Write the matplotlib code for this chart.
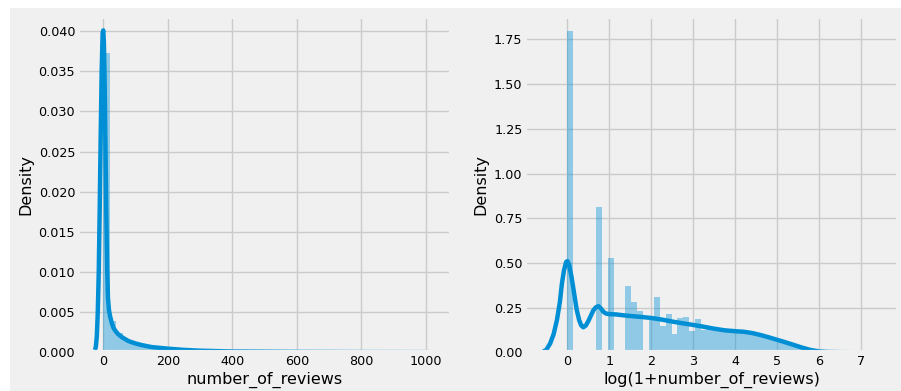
import numpy as np
import matplotlib
matplotlib.use('Agg')
import matplotlib.pyplot as plt
from matplotlib.patches import Rectangle

plt.style.use('fivethirtyeight')

BLUE = '#008fd5'

# raw counts histogram (50 bins of width 20 up to 1000 reviews)
raw_max = 1000
raw_hist = [0.0373, 0.0039, 0.0024, 0.0017, 0.0012, 0.0009, 0.0007, 0.00055,
            0.00045, 0.00035, 0.0003, 0.00024, 0.0002, 0.00016, 0.00013, 0.0001,
            0.00008, 0.00007, 0.00006, 0.00005, 0.00004, 0.00004, 0.00003, 0.00003,
            0.00003, 0.00002, 0.00002, 0.00002, 0.00002, 0.00002, 0.00001, 0.00001,
            0.00001, 0.00001, 0.00001, 0.00001, 0.00001, 0.00001, 0.00001, 0.00001,
            0.00001, 0.00001, 0.00001, 0.00001, 0.00001, 0.00001, 0.00001, 0.00001,
            0.00001, 0.00001]
raw_kde_x = [-25.7, -23, -20, -17, -14, -11, -8, -5, -2, 0, 2, 4.5, 7, 9.5,
             12, 14.5, 17.5, 21, 26, 31, 37, 45, 57, 78, 100, 119, 150, 201,
             250, 300, 400, 600, 800, 1000, 1025.7]
raw_kde_y = [0.0003, 0.0007, 0.002, 0.005, 0.010, 0.018, 0.027, 0.035, 0.0398,
             0.0401, 0.0385, 0.033, 0.025, 0.017, 0.0105, 0.0068, 0.0053, 0.0045,
             0.0037, 0.0031, 0.0027, 0.0023, 0.0019, 0.0014, 0.0011, 0.0009,
             0.00065, 0.00045, 0.0003, 0.0002, 0.0001, 0.00005, 0.00003, 0.00002,
             0.0]

# log(1+x) histogram, 50 bins up to log1p(1000)
log_hist = [1.797, 0, 0, 0, 0, 0.811, 0, 0.526, 0, 0,
            0.371, 0.281, 0.232, 0, 0.19, 0.310, 0.145, 0.213, 0.101, 0.19,
            0.197, 0.118, 0.187, 0.125, 0.135, 0.13, 0.125, 0.12, 0.117, 0.115,
            0.112, 0.108, 0.1, 0.093, 0.085, 0.075, 0.066, 0.056, 0.046, 0.036,
            0.027, 0.018, 0.011, 0.006, 0.003, 0.002, 0.001, 0.0008, 0.0005, 0.0005]
log_kde_x = [-0.60, -0.5, -0.41, -0.33, -0.25, -0.18, -0.13, -0.08, -0.03, 0.0,
             0.04, 0.10, 0.16, 0.22, 0.28, 0.33, 0.38, 0.44, 0.50, 0.56, 0.62,
             0.68, 0.74, 0.80, 0.86, 0.92, 0.98, 1.05, 1.15, 1.3, 1.5, 1.75,
             2.0, 2.25, 2.5, 2.75, 3.0, 3.25, 3.5, 3.75, 4.0, 4.2, 4.4, 4.6,
             4.8, 5.0, 5.2, 5.4, 5.6, 5.8, 6.0, 6.2, 6.5, 7.0, 7.48]
log_kde_y = [0.0, 0.015, 0.05, 0.10, 0.18, 0.28, 0.386, 0.46, 0.505, 0.51,
             0.49, 0.42, 0.33, 0.24, 0.18, 0.15, 0.14, 0.15, 0.175, 0.205, 0.235,
             0.252, 0.258, 0.245, 0.226, 0.217, 0.214, 0.213, 0.212, 0.208, 0.203,
             0.198, 0.192, 0.183, 0.172, 0.162, 0.153, 0.143, 0.132, 0.123,
             0.118, 0.115, 0.108, 0.097, 0.084, 0.07, 0.056, 0.041, 0.026,
             0.013, 0.005, 0.002, 0.0008, 0.0003, 0.0]


def dist_panel(ax, hist, top, kde_x, kde_y):
    edges = np.linspace(0, top, len(hist) + 1)
    ax.bar(edges[:-1], hist, width=np.diff(edges), align='edge',
           color=BLUE, alpha=0.4, linewidth=0)
    ax.plot(kde_x, kde_y, color=BLUE, lw=3.2, solid_joinstyle='round')
    ax.set_ylabel('Density', fontsize=11.5, labelpad=4)
    ax.tick_params(labelsize=9.2, pad=2)
    ax.set_facecolor('#f0f0f0')


fig = plt.figure(figsize=(9.01, 3.91), dpi=100, facecolor='white')
fig.patches.append(Rectangle((10 / 901, 0), 1, (391 - 7.5) / 391,
                             transform=fig.transFigure, facecolor='#f0f0f0',
                             edgecolor='none', zorder=-10))

ax1 = fig.add_axes([78 / 901, 38.7 / 391, 373.3 / 901, 335.6 / 391])
dist_panel(ax1, raw_hist, raw_max, raw_kde_x, raw_kde_y)
ax1.set_xlim(-78.3, 1078.3)
ax1.set_ylim(0, 0.0418)
ax1.set_yticks(np.arange(0, 0.0401, 0.005))
ax1.set_xlabel('number_of_reviews', fontsize=11.5, labelpad=2.5)

ax2 = fig.add_axes([525.3 / 901, 38.7 / 391, 372.7 / 901, 335.6 / 391])
dist_panel(ax2, log_hist, np.log1p(raw_max), log_kde_x, log_kde_y)
ax2.set_xlim(-1.004, 7.884)
ax2.set_ylim(0, 1.877)
ax2.set_yticks(np.arange(0, 1.76, 0.25))
ax2.set_xticks(range(0, 8))
ax2.set_xlabel('log(1+number_of_reviews)', fontsize=11.5, labelpad=2.5)

fig.savefig('out.png', dpi=100, facecolor=fig.get_facecolor())
